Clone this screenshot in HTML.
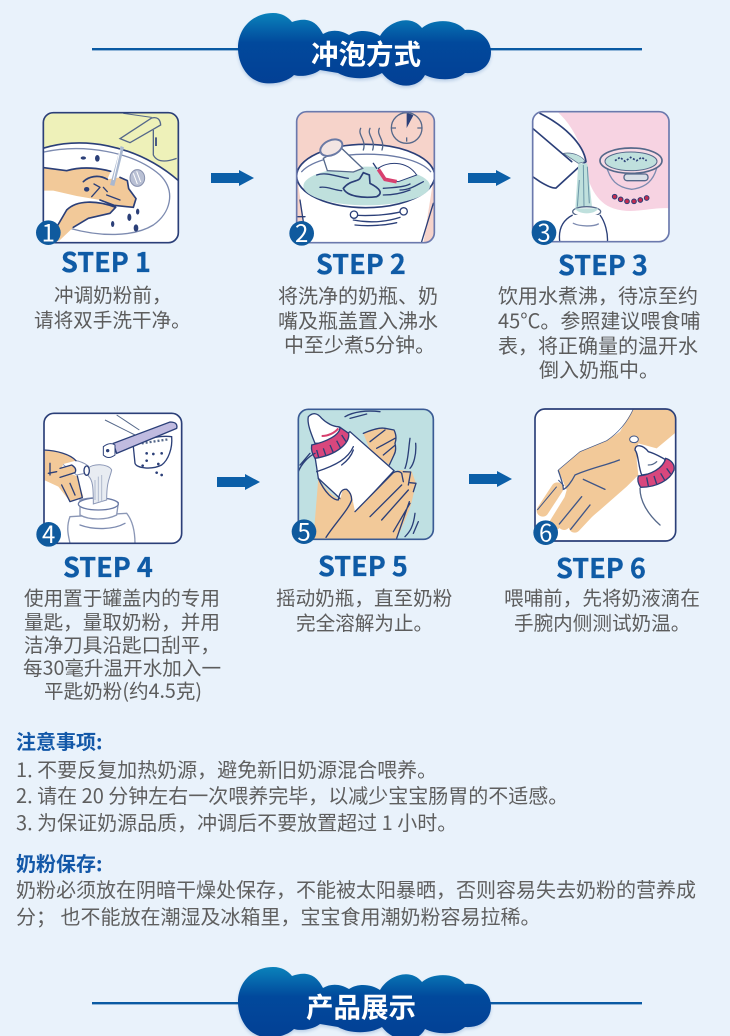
<!DOCTYPE html>
<html lang="zh"><head><meta charset="utf-8"><style>
html,body{margin:0;padding:0;background:#e9f2fb}
svg{display:block}
text{font-family:"Noto Sans CJK SC","Liberation Sans",sans-serif}
.t{font-size:19.6px;fill:#5c5c5c}
.w{font-size:20px;fill:#5c5c5c}
.n{font-size:20px;fill:#5f5f5f}
.s{font-size:27px;font-weight:700;fill:#0f5ba6;stroke:#0f5ba6;stroke-width:.3}
.h{font-size:20px;font-weight:700;fill:#1358a8}
.b{font-size:27.5px;font-weight:700;fill:#fff}
.d{font-size:72px;fill:#fff;text-anchor:middle;font-weight:400}
.o{fill:none;stroke:#2b3f78;stroke-width:5;stroke-linecap:round;stroke-linejoin:round}
.o3{fill:none;stroke:#2b3f78;stroke-width:4;stroke-linecap:round;stroke-linejoin:round}
.l{fill:none;stroke:#7d8bb0;stroke-width:4;stroke-linecap:round}
.hand{fill:#f2c999}
.fi{fill:none;stroke:#f2c999;stroke-width:36;stroke-linecap:round}
</style></head><body>
<svg xmlns="http://www.w3.org/2000/svg" width="730" height="1036" viewBox="0 0 730 1036">
<defs>
<linearGradient id="g" x1="0" y1="13" x2="0" y2="87" gradientUnits="userSpaceOnUse"><stop offset="0" stop-color="#0a82bb"/><stop offset=".4" stop-color="#01499c"/><stop offset="1" stop-color="#033f94"/></linearGradient>
<path id="cl" fill="url(#g)" d="M238 48C238 27 254 13 273 13C282 13 288 17 292 22C306 17 316 20 323 34C331 29 341 30 349 35C358 29 371 30 380 36C388 22 410 13 422 28C432 19 455 18 465 30C480 28 491 40 491 52C491 66 480 74 465 73C455 82 435 80 425 75C418 89 395 90 382 73C370 80 350 80 338 73L320 70C312 76 300 77 294 75C285 84 265 86 255 80C245 75 238 62 238 48Z"/>
<clipPath id="c1"><rect x="70" y="38" width="405" height="390" rx="30"/></clipPath>
<clipPath id="c2"><rect x="80" y="35" width="413" height="393" rx="30"/></clipPath>
<clipPath id="c3"><rect x="98" y="35" width="409" height="390" rx="30"/></clipPath>
<clipPath id="c4"><rect x="72" y="40" width="413" height="390" rx="30"/></clipPath>
<clipPath id="c5"><rect x="85" y="28" width="405" height="390" rx="30"/></clipPath>
<clipPath id="c6"><rect x="105" y="27" width="422" height="396" rx="30"/></clipPath>
</defs>
<rect width="730" height="1036" fill="#e9f2fb"/>

<!-- banner 1 -->
<rect x="92" y="48" width="550" height="2.4" fill="#0a5aa3"/>
<use href="#cl" y="2" opacity=".2" style="filter:blur(1.5px)"/>
<use href="#cl"/>
<text class="b" x="311" y="64">冲泡方式</text>

<!-- panel 1 -->
<g transform="translate(20,100) scale(.33333)">
<g clip-path="url(#c1)">
<rect x="70" y="38" width="405" height="390" fill="#eef1b9"/>
<path d="M60 148C170 108 350 125 490 255V440H60Z" fill="#fff"/>
<path class="o" d="M60 148C170 108 350 125 490 255"/>
<path class="l" d="M72 156C190 130 340 155 420 225C470 275 450 340 400 375C340 412 240 410 150 385"/>
<path d="M400 90V165Q415 195 470 175" fill="none" stroke="#55688a" stroke-width="4"/>
<path d="M300 116L395 54Q420 48 422 75L330 128Z" fill="#eef1b9" stroke="#55688a" stroke-width="4"/>
<path d="M310 40L395 52" stroke="#55688a" stroke-width="3"/>
<path d="M408 112V138" stroke="#2b3f78" stroke-width="5"/>
<ellipse cx="352" cy="234" rx="22" ry="25" fill="#b9c0d4" stroke="#8790ad" stroke-width="3"/>
<path d="M340 220L352 252M350 214L362 246" stroke="#fff" stroke-width="3"/>
<path class="hand" d="M70 203L140 212C190 198 240 205 272 214L262 238L300 232L322 242L326 266L348 296L340 322L282 316L240 300L170 288L100 272H70Z"/>
<path class="hand" d="M105 390L140 330C170 300 230 300 287 322L270 340L205 355L160 382L118 422L85 430Z"/>
<path class="o" d="M72 203L140 212C190 198 240 205 272 214M190 245C205 230 235 222 262 238M300 232L322 242L326 266L348 296L340 322L282 316L240 300M105 390L140 330C170 300 230 300 287 322L270 340L205 355L160 382"/>
<path class="o3" d="M215 290L240 262L222 252M260 285L300 300M250 262L262 275"/>
<path d="M302 138L270 255L283 258L312 142Z" fill="#aab8d0"/>
<path d="M300 150L280 240" stroke="#fff" stroke-width="3"/>
<g fill="#2b3f78"><ellipse cx="190" cy="174" rx="8" ry="5"/><ellipse cx="232" cy="175" rx="7" ry="10"/><ellipse cx="200" cy="268" rx="8" ry="7"/><ellipse cx="353" cy="335" rx="5" ry="9"/><ellipse cx="328" cy="352" rx="6" ry="11"/><ellipse cx="348" cy="384" rx="7" ry="11"/><ellipse cx="278" cy="372" rx="5" ry="9"/></g>
</g>
<rect x="70" y="38" width="405" height="390" rx="30" fill="none" stroke="#2b3f78" stroke-width="5"/>
<circle cx="85" cy="398" r="37" fill="#0f5a9e"/><text class="d" x="85" y="424">1</text>
</g>

<!-- panel 2 -->
<g transform="translate(270,100) scale(.33333)">
<g clip-path="url(#c2)">
<rect x="80" y="35" width="413" height="393" fill="#f6d3ca"/>
<path d="M80 220L110 430H460L493 220Z" fill="#fff"/>
<ellipse cx="287" cy="228" rx="207" ry="95" fill="#fff" stroke="#2b3f78" stroke-width="5"/>
<ellipse cx="290" cy="258" rx="190" ry="58" fill="#bfe0dd"/>
<path class="o3" style="stroke:#6a7aa5" d="M95 215C160 145 420 145 482 215"/>
<path d="M160 175L215 145L278 205L250 216L172 212Z" fill="#fff" stroke="#55688a" stroke-width="4"/>
<ellipse cx="184" cy="143" rx="35" ry="22" transform="rotate(-25 184 143)" fill="#f3e5e3" stroke="#6a7aa5" stroke-width="6"/>
<path d="M325 205C350 185 410 180 440 225L385 245L345 240Z" fill="#fff" stroke="#2b3f78" stroke-width="3"/>
<path d="M325 208L345 238L380 245" fill="none" stroke="#d8406f" stroke-width="11"/>
<path style="fill:#bfe0dd;stroke:#2b3f78;stroke-width:5" d="M220 265C240 240 265 245 270 235L280 218L298 225L300 250C330 265 340 280 320 290C280 295 230 290 220 265Z"/>
<path class="o3" d="M140 225C170 215 200 230 235 235M150 262C170 258 190 270 215 272M390 270C420 270 440 255 460 245M340 265C375 262 400 262 420 252M340 285C370 285 395 280 420 270M310 190L320 205"/>
<path class="o3" style="stroke:#55688a" d="M272 85C262 105 290 120 280 150M300 85C290 105 318 120 308 150M328 85C318 105 346 120 336 150"/>
<circle cx="410" cy="84" r="46" fill="none" stroke="#55688a" stroke-width="4"/>
<path d="M410 40V84L430 46Q420 40 410 40Z" fill="#2b3f78"/>
<path d="M410 125V112M365 84H378M455 84H442" stroke="#55688a" stroke-width="4"/>
<path class="o3" d="M245 345C280 348 340 348 395 335M250 360C290 368 340 368 390 352M255 375C300 380 350 375 380 368M455 425L490 310M90 300L110 430M80 350H105"/>
<circle cx="252" cy="344" r="11" fill="#fff" stroke="#2b3f78" stroke-width="4"/><circle cx="401" cy="334" r="11" fill="#fff" stroke="#2b3f78" stroke-width="4"/>
</g>
<rect x="80" y="35" width="413" height="393" rx="30" fill="none" stroke="#6b79ad" stroke-width="5"/>
<circle cx="95" cy="400" r="37" fill="#0f5a9e"/><text class="d" x="95" y="426">2</text>
</g>

<!-- panel 3 -->
<g transform="translate(500,100) scale(.33333)">
<g clip-path="url(#c3)">
<rect x="98" y="35" width="409" height="390" fill="#fff"/>
<path d="M175 38H510V325C450 320 400 345 340 325C290 310 260 250 255 185C240 120 210 70 175 38Z" fill="#f7d3e2"/>
<path d="M95 85L215 185L245 190L170 262L95 230Z" fill="#fff"/>
<path class="o" d="M120 40C190 75 250 130 258 185L240 198L168 264Q155 266 120 245L98 230M98 85L215 185"/>
<path d="M190 160C220 155 250 170 255 185L235 190Z" fill="#bfe0dd" stroke="#55688a" stroke-width="2"/>
<path d="M235 190L262 190L276 320L226 325Z" fill="#bfe0dd"/>
<path d="M250 195L252 320M238 240L232 320M262 200L268 310" stroke="#6c96a8" stroke-width="3" fill="none"/>
<ellipse cx="260" cy="335" rx="42" ry="15" fill="#fff" stroke="#55688a" stroke-width="4"/>
<path d="M225 325C235 345 285 345 295 325" fill="#bfe0dd"/>
<path d="M218 345C180 365 175 400 180 430H322C325 400 315 365 300 345" fill="#fff" stroke="#2b3f78" stroke-width="4"/>
<path d="M220 370C240 380 280 380 295 372" class="l"/>
<path d="M318 195C330 240 350 262 395 268C440 262 460 240 470 205" fill="#f7d3e2" stroke="#7d8bb0" stroke-width="4"/>
<ellipse cx="393" cy="182" rx="93" ry="38" fill="#f7dbe6" stroke="#55688a" stroke-width="5"/>
<ellipse cx="393" cy="184" rx="78" ry="28" fill="#bfe0dd" stroke="#55688a" stroke-width="3"/>
<path d="M345 182L360 172L375 184L392 172L410 182L425 172L440 182" fill="none" stroke="#2b3f78" stroke-width="5" stroke-dasharray="6 5"/>
<rect x="372" y="222" width="72" height="20" rx="9" fill="#d8dfe7" stroke="#55688a" stroke-width="4"/>
<g fill="#c32c50" stroke="#2b3f78" stroke-width="3"><circle cx="344" cy="290" r="7"/><circle cx="362" cy="298" r="7"/><circle cx="381" cy="304" r="7"/><circle cx="402" cy="304" r="7"/><circle cx="421" cy="300" r="7"/><circle cx="440" cy="294" r="7"/></g>
</g>
<rect x="98" y="35" width="409" height="390" rx="30" fill="none" stroke="#6b79ad" stroke-width="5"/>
<circle cx="132" cy="398" r="37" fill="#0f5a9e"/><text class="d" x="132" y="424">3</text>
</g>

<!-- panel 4 -->
<g transform="translate(20,400) scale(.33333)">
<g clip-path="url(#c4)">
<rect x="72" y="40" width="413" height="390" fill="#fff"/>
<path d="M255 60L345 105M290 45L358 90" stroke="#55688a" stroke-width="3"/>
<path d="M340 140C350 120 420 105 455 110C458 145 445 180 425 195C395 210 350 205 345 190Z" fill="#fff" stroke="#2b3f78" stroke-width="4"/>
<path d="M365 130L445 118" stroke="#55688a" stroke-width="7" stroke-dasharray="6 6"/>
<g fill="#2b3f78"><circle cx="380" cy="160" r="4"/><circle cx="400" cy="162" r="4"/><circle cx="425" cy="160" r="4"/><circle cx="380" cy="182" r="4"/><circle cx="415" cy="192" r="4"/><circle cx="368" cy="197" r="4"/><circle cx="410" cy="218" r="4"/><circle cx="425" cy="225" r="4"/></g>
<path d="M280 130L450 66Q475 66 470 85L290 160Z" fill="#c0bbe0" stroke="#2b3f78" stroke-width="4"/>
<path d="M250 140Q270 125 285 135L285 165Q265 180 250 165Z" fill="#fff" stroke="#2b3f78" stroke-width="3"/>
<circle cx="263" cy="152" r="5" fill="#2b3f78"/>
<path d="M125 190C150 175 180 180 205 198L205 218L170 225Z" fill="#fff" stroke="#8b97b6" stroke-width="3"/>
<path class="hand" d="M72 150C110 150 150 162 168 182L130 192L122 210L170 228L190 290L150 305L115 260L72 240Z"/>
<path class="hand" d="M120 205L155 195Q175 205 165 220L118 232Z"/>
<path class="o3" d="M72 150C110 152 150 162 168 182M120 205L155 195Q172 205 165 218L120 232M90 190L90 225M125 255L150 305L187 293L172 228M150 250L165 285M85 220L110 215"/>
<path d="M150 350C135 390 150 420 150 432H345C345 400 340 365 320 340Z" fill="#fff" stroke="#8b97b6" stroke-width="4"/>
<path d="M180 300C210 290 270 290 295 308L290 345C260 360 210 362 180 345Z" fill="#fff" stroke="#8b97b6" stroke-width="4"/>
<ellipse cx="235" cy="312" rx="60" ry="18" fill="#fff" stroke="#6a7aa5" stroke-width="4"/>
<path d="M205 205C215 190 265 190 275 210C270 235 260 240 260 300L220 312C220 260 218 240 205 228Z" fill="#e8ecf2" stroke="#8b97b6" stroke-width="3"/>
<path d="M235 230V305M245 225V305M225 240V300" stroke="#b0bacd" stroke-width="3"/>
<ellipse cx="200" cy="212" rx="8" ry="14" fill="#fff" stroke="#2b3f78" stroke-width="4"/>
<path class="l" d="M180 375C220 390 280 390 315 370"/>
</g>
<rect x="72" y="40" width="413" height="390" rx="30" fill="none" stroke="#2b3f78" stroke-width="5"/>
<circle cx="86" cy="403" r="37" fill="#0f5a9e"/><text class="d" x="86" y="429">4</text>
</g>

<!-- panel 5 -->
<g transform="translate(270,400) scale(.33333)">
<g clip-path="url(#c5)">
<rect x="85" y="28" width="405" height="390" fill="#bfe0e2"/>
<path class="hand" d="M280 100C310 88 330 82 345 85L372 90Q382 110 375 130Q380 150 372 165L358 195L300 150Z"/>
<path class="o3" d="M280 100C310 88 330 82 345 85L372 90Q382 110 375 130Q380 150 372 165L358 195M300 125L345 90M320 145L375 115M340 165L376 135"/>
<path d="M135 170L240 95L372 212L255 338L215 300L145 235Z" fill="#fff" stroke="#2b3f78" stroke-width="4"/>
<path class="hand" d="M145 235C175 280 195 290 210 300L218 270Q235 262 245 285L255 335L370 218L388 210L425 214L438 250L425 305L418 330L380 418H130Z"/>
<path class="o3" d="M145 235C165 280 190 300 205 300M205 300Q210 265 230 268Q245 280 245 300C235 330 195 370 168 412M255 335L370 218Q385 210 395 220L400 245M300 350L395 255M400 215L422 216L415 255M335 360L415 270M420 248L438 250L430 275M370 395L420 310M418 305L380 415M130 418H380"/>
<path d="M135 130C125 105 110 70 115 50Q135 30 155 55C170 70 190 80 205 80L235 105L225 130Z" fill="#fff" stroke="#2b3f78" stroke-width="4"/>
<path d="M155 108C175 108 195 98 205 85" stroke="#d8406f" stroke-width="6" fill="none"/>
<path d="M125 135C170 125 210 105 210 82L236 100C240 130 200 165 135 175Q122 155 125 135Z" fill="#d8477d" stroke="#2b3f78" stroke-width="4"/>
<path d="M140 150L146 172M160 145L168 168M180 135L190 158M200 122L212 145M215 105L228 125" stroke="#2b3f78" stroke-width="4"/>
<path class="o3" d="M140 215C200 195 235 175 250 140M215 195C235 180 245 165 250 150M225 50C250 35 290 30 330 35M240 55L290 42M420 115C415 150 415 180 405 205M437 130C440 165 430 195 420 205M85 215C95 190 115 170 135 160M90 195L120 160M435 340C430 380 420 395 405 410M445 365L430 400"/>
</g>
<rect x="85" y="28" width="405" height="390" rx="30" fill="none" stroke="#3a5b94" stroke-width="5"/>
<circle cx="102" cy="395" r="37" fill="#0f5a9e"/><text class="d" x="102" y="421">5</text>
</g>

<!-- panel 6 -->
<g transform="translate(500,400) scale(.33333)">
<g clip-path="url(#c6)">
<rect x="105" y="27" width="422" height="396" fill="#fff"/>
<path class="hand" d="M400 27H530V95L470 145L415 130L410 180L415 225L380 260L300 330L235 385L180 340L200 270L175 210L240 155L320 122L360 95Z"/>
<path class="fi" d="M172 265L128 332M225 275L165 372M250 300L192 372M282 318L224 380"/>
<path d="M175 212C185 240 190 260 190 268C200 265 215 245 225 225C270 205 320 195 358 180M250 238L315 268M245 290L178 372M270 315L212 388" fill="none" stroke="#3f5688" stroke-width="4" stroke-linecap="round"/>
<path d="M170 260L112 330M175 240L192 258" fill="none" stroke="#3f5688" stroke-width="3"/>
<path d="M400 27C385 60 360 95 320 122L240 155L175 210" fill="none" stroke="#3f5688" stroke-width="2"/>
<ellipse cx="402" cy="118" rx="13" ry="10" fill="#fff" stroke="#3f5688" stroke-width="3"/>
<path d="M425 225C415 200 415 160 405 150C405 130 430 135 445 155C465 160 480 170 495 178L490 215Z" fill="#fff" stroke="#2b3f78" stroke-width="4"/>
<path d="M415 228C450 225 490 205 497 175C515 180 525 195 522 210C510 240 470 262 422 262Q410 245 415 228Z" fill="#d8477d" stroke="#2b3f78" stroke-width="4"/>
<path d="M440 232L445 258M462 228L470 252M482 220L495 242M500 205L512 222" stroke="#2b3f78" stroke-width="4"/>
<path class="l" style="stroke:#55688a" d="M420 265C420 300 440 340 480 375M445 195C455 195 465 190 470 185"/>
</g>
<rect x="105" y="27" width="422" height="396" rx="30" fill="none" stroke="#2b3f78" stroke-width="5"/>
<circle cx="137" cy="398" r="37" fill="#0f5a9e"/><text class="d" x="137" y="424">6</text>
</g>

<!-- arrows -->
<g fill="#0b5fa8">
<path id="a" d="M211 173H239V170L254 178L239 186V183H211Z"/>
<use href="#a" x="257"/>
<use href="#a" x="6" y="304"/>
<use href="#a" x="258" y="301"/>
</g>

<!-- step titles -->
<text class="s" x="61" y="272">STEP 1</text>
<text class="s" x="316" y="274">STEP 2</text>
<text class="s" x="558" y="275">STEP 3</text>
<text class="s" x="63" y="577">STEP 4</text>
<text class="s" x="318" y="576">STEP 5</text>
<text class="s" x="556" y="578">STEP 6</text>

<!-- step text -->
<text class="t" x="54" y="302">冲调奶粉前&#65292;</text>
<text class="t" x="34" y="327">请将双手洗干净。</text>
<text class="w" x="278" y="303">将洗净的奶瓶、奶</text>
<text class="w" x="278" y="328">嘴及瓶盖置入沸水</text>
<text class="w" x="284" y="352">中至少煮5分钟。</text>
<text class="w" x="498" y="303">饮用水煮沸&#65292;待凉至约</text>
<text class="w" x="498" y="328">45°C。参照建议喂食哺</text>
<text class="w" x="498" y="353">表&#65292;将正确量的温开水</text>
<text class="w" x="539" y="377">倒入奶瓶中。</text>
<text class="t" x="24" y="605">使用置于罐盖内的专用</text>
<text class="t" x="24" y="629">量匙&#65292;量取奶粉&#65292;并用</text>
<text class="t" x="24" y="652">洁净刀具沿匙口刮平&#65292;</text>
<text class="t" x="23" y="675">每30毫升温开水加入一</text>
<text class="t" x="44" y="698">平匙奶粉(约4.5克)</text>
<text class="t" x="276" y="605">摇动奶瓶&#65292;直至奶粉</text>
<text class="t" x="296" y="630">完全溶解为止。</text>
<text class="t" x="504" y="605">喂哺前&#65292;先将奶液滴在</text>
<text class="t" x="514" y="630">手腕内侧测试奶温。</text>

<!-- notes -->
<text class="h" x="16" y="749">注意事项:</text>
<text class="n" x="16" y="777">1. 不要反复加热奶源&#65292;避免新旧奶源混合喂养。</text>
<text class="n" x="16" y="803">2. 请在 20 分钟左右一次喂养完毕&#65292;以减少宝宝肠胃的不适感。</text>
<text class="n" x="16" y="830">3. 为保证奶源品质&#65292;冲调后不要放置超过 1 小时。</text>
<text class="h" x="16" y="871">奶粉保存:</text>
<text class="n" x="16" y="897">奶粉必须放在阴暗干燥处保存&#65292;不能被太阳暴晒&#65292;否则容易失去奶粉的营养成</text>
<text class="n" x="16" y="924">分&#65307; 也不能放在潮湿及冰箱里&#65292;宝宝食用潮奶粉容易拉稀。</text>

<!-- banner 2 -->
<rect x="92" y="1002" width="550" height="2.4" fill="#0a5aa3"/>
<g transform="translate(0,954)"><use href="#cl" y="2" opacity=".2" style="filter:blur(1.5px)"/><use href="#cl"/></g>
<text class="b" x="306" y="1017">产品展示</text>
</svg>
</body></html>
